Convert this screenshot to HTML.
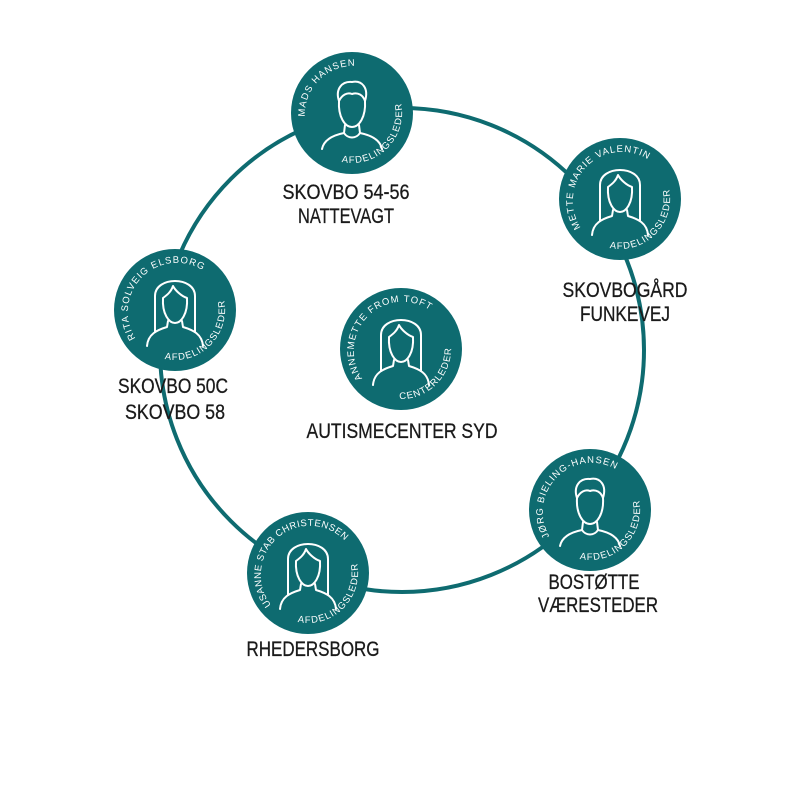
<!DOCTYPE html>
<html><head><meta charset="utf-8"><style>
html,body{margin:0;padding:0;background:#fff;width:800px;height:800px;overflow:hidden}
.lbl{font-family:"Liberation Sans",sans-serif;font-size:21px;fill:#1a1a1a;text-anchor:middle;stroke:#1a1a1a;stroke-width:0.3}
.arc{font-family:"Liberation Sans",sans-serif;font-size:9.5px;fill:#fff;letter-spacing:1px}
</style></head><body>
<svg width="800" height="800" viewBox="0 0 800 800" xmlns="http://www.w3.org/2000/svg">
<defs>
<g id="male" fill="none" stroke="#fff" stroke-width="2" stroke-linecap="round" stroke-linejoin="round">
<path d="M-13,-12 C-14,4 -7,14 0,14 C7,14 14,4 13,-12"/>
<path d="M-13,-12 C-17,-24 -10,-32 0,-31 C10,-33 17,-25 13,-12 C11,-18 6,-21 0,-19 C-5,-21 -10,-18 -13,-12"/>
<path d="M-7,12 L-8,20 C-18,22 -28,26 -30,36 M7,12 L8,20 C18,22 28,26 30,36"/>
<path d="M-8,20 C-4,26 4,26 8,20"/>
</g>
<g id="female" fill="none" stroke="#fff" stroke-width="2" stroke-linecap="round" stroke-linejoin="round">
<path d="M-12,-12 C-13,4 -6,13 0,13 C6,13 13,4 12,-12 C6,-14 0,-20 -2,-24 C-4,-18 -8,-15 -12,-12"/>
<path d="M-20,22 L-20,-14 C-20,-34 20,-34 20,-14 L20,22"/>
<path d="M-7,11 L-8,17 C-18,20 -27,24 -28,36 M7,11 L8,17 C18,20 27,24 28,36"/>
</g>
<path id="an" d="M-34.6,34.6 A49,49 0 0 1 34.6,-34.6" fill="none"/>
<path id="ar" d="M-35.4,35.4 A50,50 0 0 0 35.4,-35.4" fill="none"/>
</defs>
<circle cx="402" cy="350" r="242" fill="none" stroke="#0e6b70" stroke-width="4"/>

<g transform="translate(352,113)">
<circle r="61" fill="#0e6b70"/><use href="#male"/>
<text class="arc"><textPath href="#an" startOffset="50%" text-anchor="middle">MADS HANSEN</textPath></text>
<text class="arc"><textPath href="#ar" startOffset="50%" text-anchor="middle">AFDELINGSLEDER</textPath></text>
</g>
<g transform="translate(620,199)">
<circle r="61" fill="#0e6b70"/><use href="#female"/>
<text class="arc"><textPath href="#an" startOffset="50%" text-anchor="middle">METTE MARIE VALENTIN</textPath></text>
<text class="arc"><textPath href="#ar" startOffset="50%" text-anchor="middle">AFDELINGSLEDER</textPath></text>
</g>
<g transform="translate(175,310)">
<circle r="61" fill="#0e6b70"/><use href="#female"/>
<text class="arc"><textPath href="#an" startOffset="50%" text-anchor="middle">RITA SOLVEIG ELSBORG</textPath></text>
<text class="arc"><textPath href="#ar" startOffset="50%" text-anchor="middle">AFDELINGSLEDER</textPath></text>
</g>
<g transform="translate(401,349)">
<circle r="61" fill="#0e6b70"/><use href="#female"/>
<text class="arc"><textPath href="#an" startOffset="50%" text-anchor="middle">ANNEMETTE FROM TOFT</textPath></text>
<text class="arc"><textPath href="#ar" startOffset="50%" text-anchor="middle">CENTERLEDER</textPath></text>
</g>
<g transform="translate(590,510)">
<circle r="61" fill="#0e6b70"/><use href="#male"/>
<text class="arc"><textPath href="#an" startOffset="50%" text-anchor="middle">JØRG BIELING-HANSEN</textPath></text>
<text class="arc"><textPath href="#ar" startOffset="50%" text-anchor="middle">AFDELINGSLEDER</textPath></text>
</g>
<g transform="translate(308,573)">
<circle r="61" fill="#0e6b70"/><use href="#female"/>
<text class="arc" style="letter-spacing:0.5px"><textPath href="#an" startOffset="50%" text-anchor="middle">SUSANNE STAB CHRISTENSEN</textPath></text>
<text class="arc"><textPath href="#ar" startOffset="50%" text-anchor="middle">AFDELINGSLEDER</textPath></text>
</g>

<text class="lbl" x="346" y="199" textLength="127" lengthAdjust="spacingAndGlyphs">SKOVBO 54-56</text>
<text class="lbl" x="346" y="223" textLength="96" lengthAdjust="spacingAndGlyphs">NATTEVAGT</text>
<text class="lbl" x="625" y="297" textLength="125" lengthAdjust="spacingAndGlyphs">SKOVBOGÅRD</text>
<text class="lbl" x="625" y="321" textLength="90" lengthAdjust="spacingAndGlyphs">FUNKEVEJ</text>
<text class="lbl" x="173" y="393" textLength="110" lengthAdjust="spacingAndGlyphs">SKOVBO 50C</text>
<text class="lbl" x="175" y="419" textLength="100" lengthAdjust="spacingAndGlyphs">SKOVBO 58</text>
<text class="lbl" x="402" y="438" textLength="191" lengthAdjust="spacingAndGlyphs">AUTISMECENTER SYD</text>
<text class="lbl" x="594" y="589" textLength="91" lengthAdjust="spacingAndGlyphs">BOSTØTTE</text>
<text class="lbl" x="598" y="612" textLength="120" lengthAdjust="spacingAndGlyphs">VÆRESTEDER</text>
<text class="lbl" x="313" y="656" textLength="133" lengthAdjust="spacingAndGlyphs">RHEDERSBORG</text>
</svg>
</body></html>
